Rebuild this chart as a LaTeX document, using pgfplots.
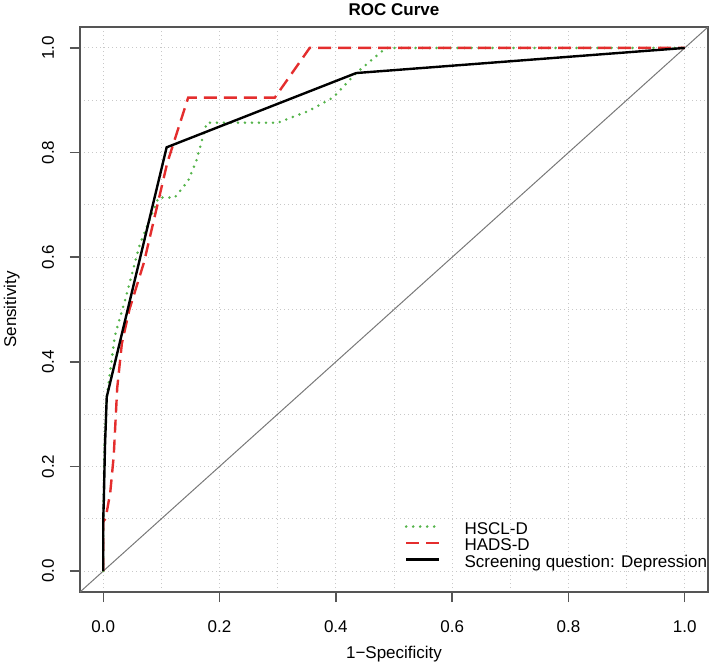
\documentclass[border=0pt]{standalone}
\usepackage{fontspec}
\setmainfont{Liberation Sans}
\usepackage{pgfplots}
\pgfplotsset{compat=1.18}
\definecolor{rocgreen}{RGB}{85,180,75}
\definecolor{rocred}{RGB}{228,45,45}
\definecolor{boxgray}{RGB}{85,85,85}
\definecolor{gridgray}{RGB}{200,200,200}
\definecolor{diaggray}{RGB}{120,120,120}
\begin{document}
\begin{tikzpicture}
\begin{axis}[
  scale only axis, width=314pt, height=282.5pt,
  xmin=-0.04, xmax=1.04, ymin=-0.04, ymax=1.04,
  font=\fontsize{8.5pt}{10pt}\selectfont,
  /pgf/number format/assume math mode=true,
  xtick={0,0.2,0.4,0.6,0.8,1}, ytick={0,0.2,0.4,0.6,0.8,1},
  minor xtick={0.1,0.3,0.5,0.7,0.9}, minor ytick={0.1,0.3,0.5,0.7,0.9},
  grid=both,
  major grid style={gridgray, dash pattern=on 0.6pt off 1.4pt, line width=0.5pt},
  minor grid style={gridgray, dash pattern=on 0.6pt off 1.4pt, line width=0.5pt},
  tick align=outside, major tick length=5pt, minor tick length=0pt,
  xtick pos=left, ytick pos=left,
  axis line style={boxgray, line width=0.7pt},
  tick style={boxgray, line width=0.7pt},
  xticklabel style={/pgf/number format/fixed, /pgf/number format/fixed zerofill, /pgf/number format/precision=1, anchor=base, yshift=-15pt},
  yticklabel style={/pgf/number format/fixed, /pgf/number format/fixed zerofill, /pgf/number format/precision=1, rotate=90, anchor=base, yshift=8pt},
  title={\textbf{ROC Curve}},
  every axis title shift=0pt,
  title style={at={(axis description cs:0.5,1.0195)}, anchor=base, font=\fontsize{8.5pt}{10pt}\selectfont},
  xlabel={1−Specificity},
  xlabel style={at={(axis description cs:0.5,-0.1168)}, anchor=base},
  ylabel={Sensitivity},
  ylabel style={at={(axis description cs:-0.1019,0.5)}, anchor=base, rotate=0},
  legend style={at={(axis cs:0.5185,0.0025)}, anchor=south west, draw=none, fill=none,
    inner sep=0pt, outer sep=0pt, row sep=0pt,
    nodes={inner sep=0pt, text height=7pt, text depth=1.25pt},
    font=\fontsize{8.5pt}{10pt}\selectfont},
  legend cell align=left,
  legend image code/.code={\draw[#1] (0pt,1pt) -- (16.5pt,1pt); \path (28.5pt,0pt);},
]
\addplot[diaggray, line width=0.5pt, forget plot] coordinates {(-0.04,-0.04) (1.04,1.04)};
\addplot[rocgreen, line width=1.4pt, dash pattern=on 0pt off 3.5pt, line cap=round] coordinates {
(0,0) (0,0.10) (0.002,0.24) (0.006,0.333) (0.02,0.45) (0.038,0.52) (0.063,0.625) (0.095,0.714) (0.123,0.714) (0.146,0.746) (0.16,0.784) (0.178,0.857) (0.30,0.857) (0.352,0.879) (0.395,0.905) (0.435,0.952) (0.486,1.0) (1,1)};
\addlegendentry{HSCL-D}
\addplot[rocred, line width=1.2pt, dash pattern=on 6.5pt off 3.5pt] coordinates {
(0,0) (0,0.095) (0.004,0.10) (0.012,0.15) (0.018,0.22) (0.024,0.35) (0.032,0.435) (0.045,0.50) (0.07,0.59) (0.11,0.78) (0.146,0.905) (0.295,0.905) (0.355,1.0) (1,1)};
\addlegendentry{HADS-D}
\addplot[black, line width=1.2pt] coordinates {
(0,0) (0,0.10) (0.001,0.137) (0.002,0.19) (0.003,0.24) (0.006,0.333) (0.109,0.81) (0.435,0.952) (1,1)};
\addlegendentry{Screening question: Depression}
\end{axis}
\pgfresetboundingbox
\useasboundingbox ([shift={(-40pt,-36.5pt)}]current axis.south west) rectangle ([shift={(1pt,13.5pt)}]current axis.north east);
\end{tikzpicture}
\end{document}
